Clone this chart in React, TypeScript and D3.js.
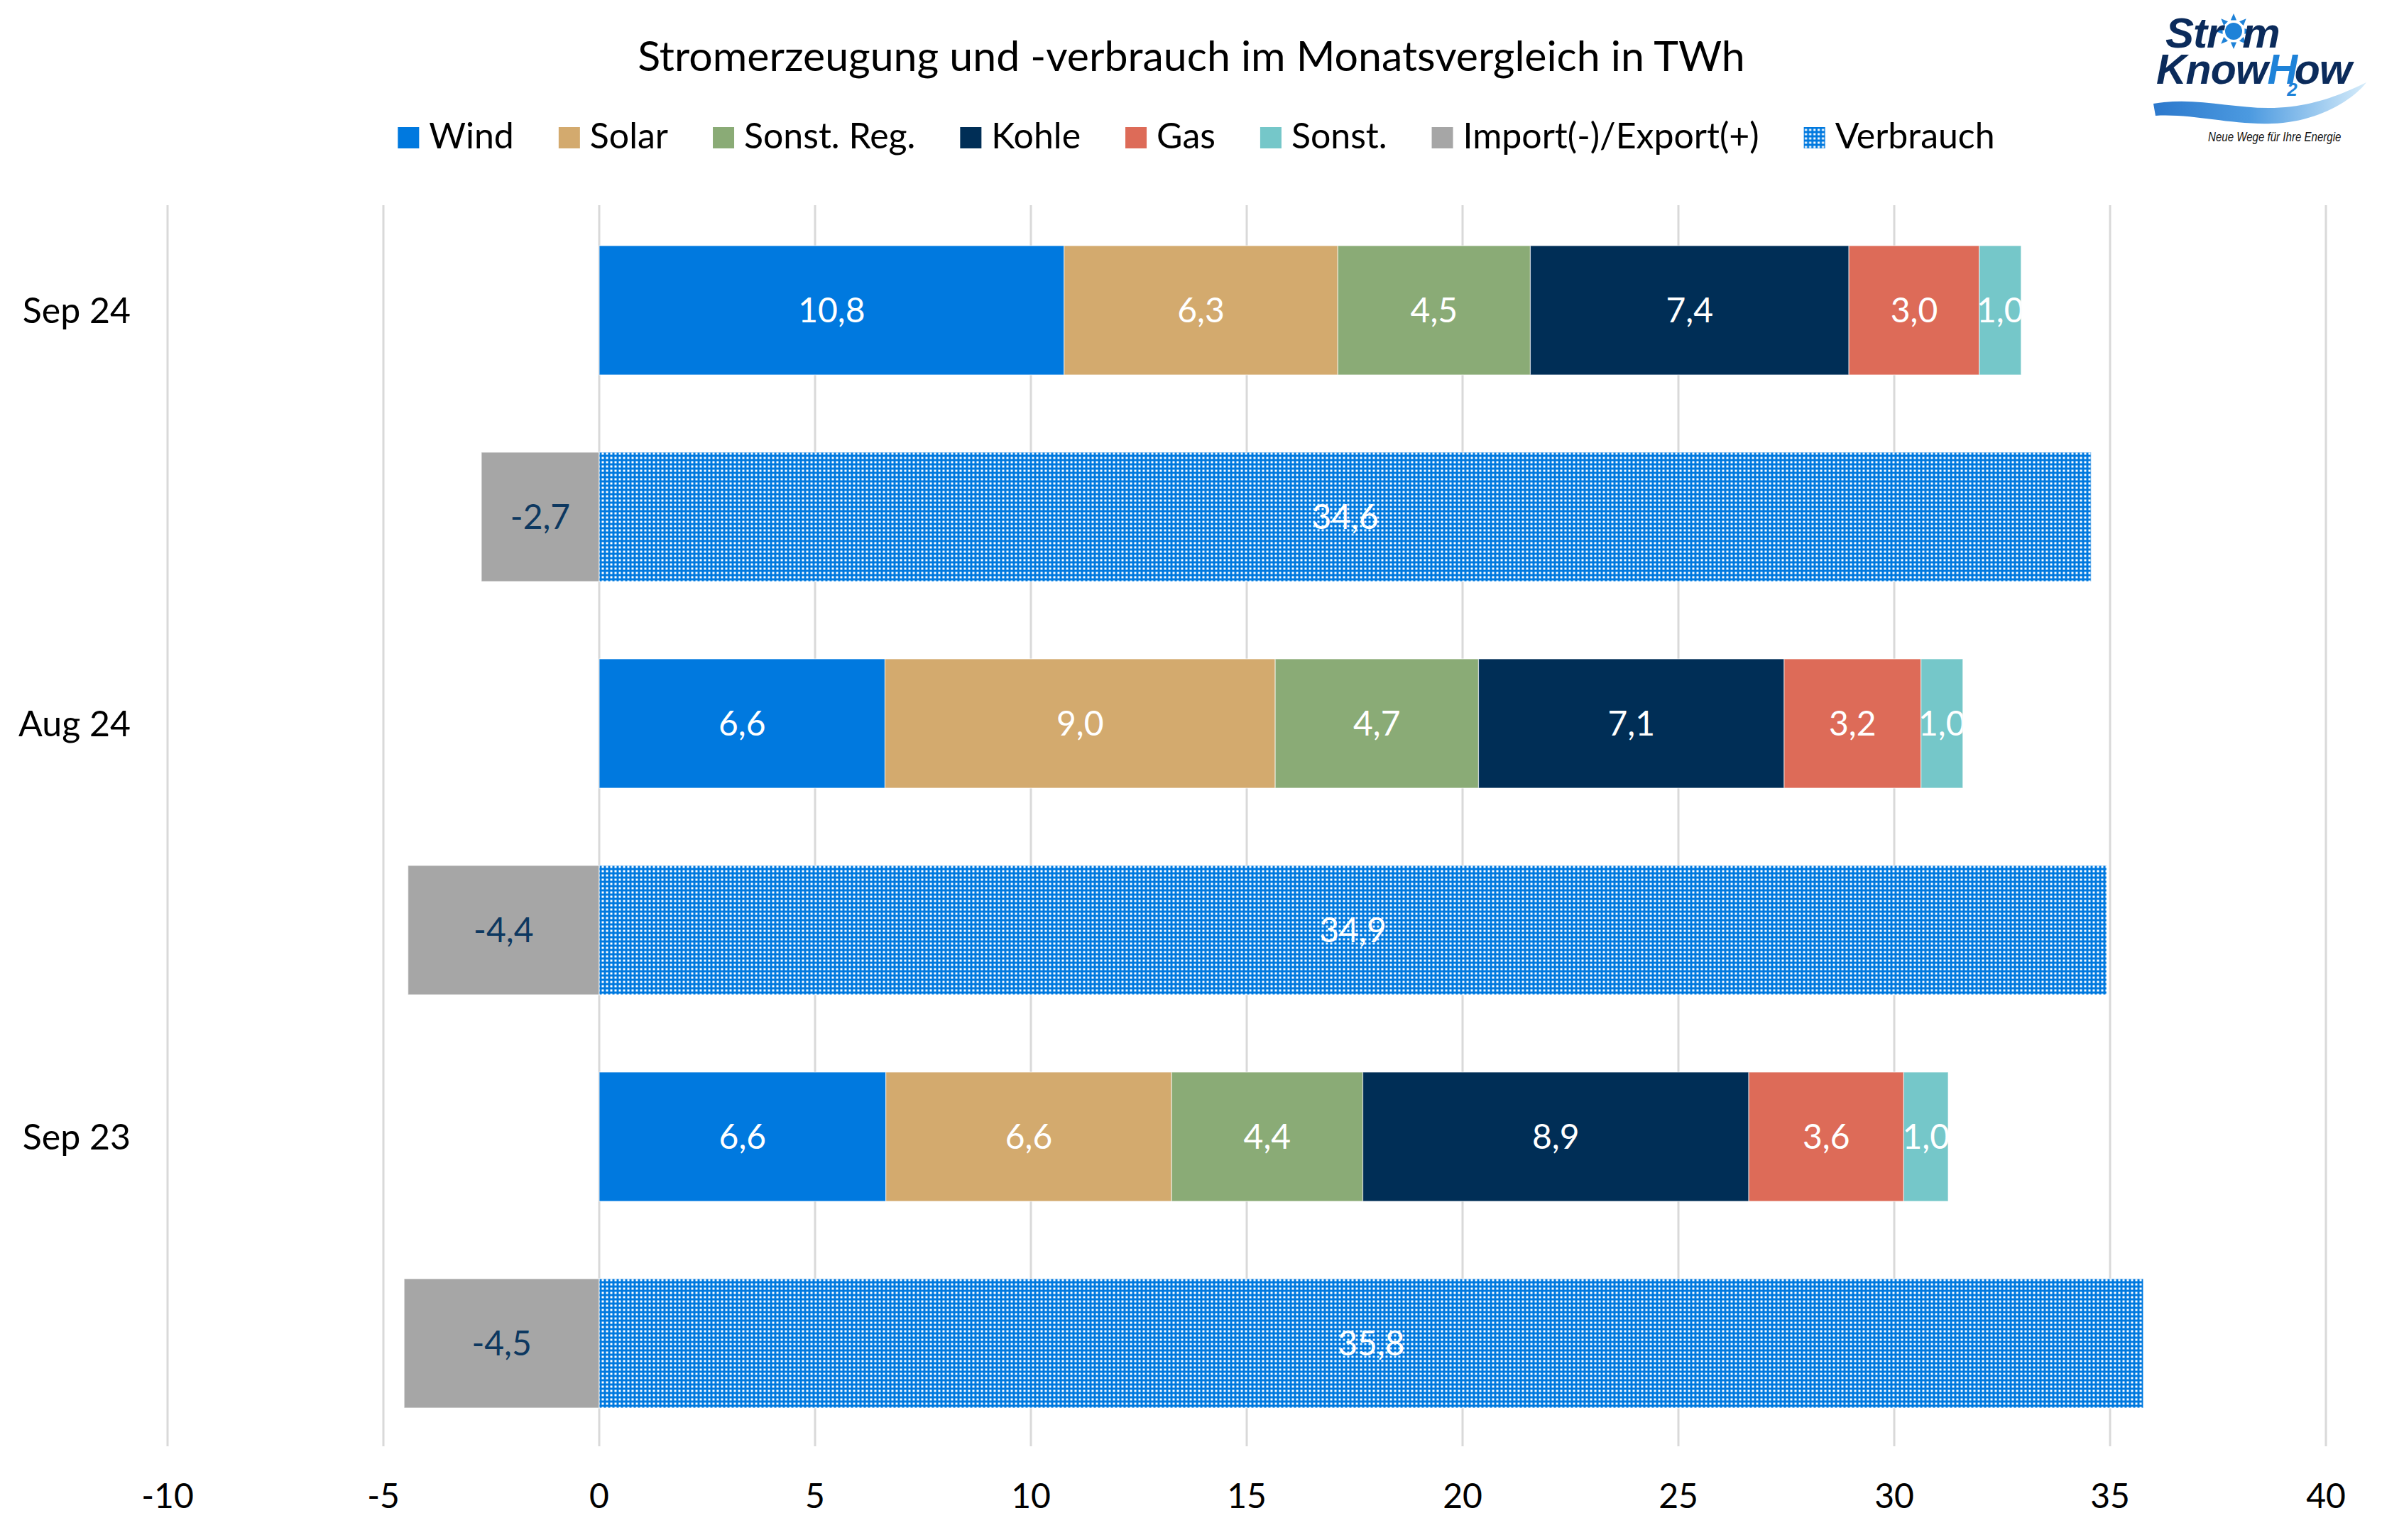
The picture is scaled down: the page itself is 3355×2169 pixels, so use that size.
import React, { useEffect, useRef } from "react";
import * as d3 from "d3";

// ---------- data ----------
const categories = ["Sep 24", "Aug 24", "Sep 23"];
const wind = [10.77, 6.62, 6.64];
const solar = [6.34, 9.04, 6.62];
const sonstReg = [4.46, 4.71, 4.43];
const kohle = [7.38, 7.08, 8.94];
const gas = [3.02, 3.17, 3.59];
const sonst = [0.97, 0.97, 1.03];
const importExport = [-2.73, -4.43, -4.52];
const verbrauch = [34.56, 34.92, 35.77];
const xTicks = [-10, -5, 0, 5, 10, 15, 20, 25, 30, 35, 40];

const genKeys = ["Wind", "Solar", "Sonst. Reg.", "Kohle", "Gas", "Sonst."];
const legendNames = ["Wind", "Solar", "Sonst. Reg.", "Kohle", "Gas", "Sonst.", "Import(-)/Export(+)", "Verbrauch"];
const colors: Record<string, string> = {
  Wind: "#0079DF",
  Solar: "#D3AA6E",
  "Sonst. Reg.": "#8AAB76",
  Kohle: "#002E56",
  Gas: "#DD6B58",
  "Sonst.": "#75C7C9",
  "Import(-)/Export(+)": "#A6A6A6",
  Verbrauch: "url(#vpat)",
};
const titleText = "Stromerzeugung und -verbrauch im Monatsvergleich in TWh";

const FONT = "Lato, 'Open Sans', sans-serif";
const LOGO_FONT = "'Liberation Sans', Arial, sans-serif";
const NAVY = "#0B2B5B";
const LBLUE = "#1E82D8";

export default function App() {
  const chartRef = useRef<SVGGElement>(null);

  useEffect(() => {
    document.body.style.margin = "0";
    const g = d3.select(chartRef.current);
    g.selectAll("*").remove();

    const defs = g.append("defs");
    const pat = defs
      .append("pattern")
      .attr("id", "vpat")
      .attr("patternUnits", "userSpaceOnUse")
      .attr("width", 6)
      .attr("height", 6);
    pat.append("rect").attr("width", 6).attr("height", 6).attr("fill", "#0079DF");
    pat.append("rect").attr("x", 1.5).attr("y", 1.5).attr("width", 3).attr("height", 3).attr("fill", "#fff");

    const table = categories.map((c, i) => ({
      cat: c,
      Wind: wind[i],
      Solar: solar[i],
      "Sonst. Reg.": sonstReg[i],
      Kohle: kohle[i],
      Gas: gas[i],
      "Sonst.": sonst[i],
      imp: importExport[i],
      use: verbrauch[i],
    }));

    const rows: string[] = [];
    categories.forEach((c) => {
      rows.push(c + "|gen");
      rows.push(c + "|use");
    });

    const x = d3.scaleLinear().domain([-10, 40]).range([236, 3276]);
    const pad = 109 / 291;
    const y = d3.scaleBand<string>().domain(rows).range([291.5, 2037.5]).paddingInner(pad).paddingOuter(pad / 2);
    const bw = y.bandwidth();

    const fmt = (v: number) => v.toFixed(1).replace(".", ",");

    // gridlines
    g.append("g")
      .selectAll("line")
      .data(xTicks)
      .join("line")
      .attr("x1", (d) => x(d))
      .attr("x2", (d) => x(d))
      .attr("y1", 289)
      .attr("y2", 2037)
      .attr("stroke", "#D9D9D9")
      .attr("stroke-width", 3);

    // tick labels
    g.append("g")
      .selectAll("text")
      .data(xTicks)
      .join("text")
      .attr("x", (d) => x(d))
      .attr("y", 2124)
      .attr("text-anchor", "middle")
      .attr("font-family", FONT)
      .attr("font-size", 48)
      .attr("fill", "#000")
      .text((d) => String(d));

    // category labels
    g.append("g")
      .selectAll("text")
      .data(categories)
      .join("text")
      .attr("x", 184)
      .attr("y", (d) => (y(d + "|gen") as number) + bw / 2)
      .attr("dy", "0.36em")
      .attr("text-anchor", "end")
      .attr("font-family", FONT)
      .attr("font-size", 50)
      .attr("fill", "#000")
      .text((d) => d);

    type Seg = { id: string; x0: number; x1: number; y: number; fill: string; label: string; labelColor: string };
    const segs: Seg[] = [];
    const stack = d3.stack<any>().keys(genKeys);
    const stacked = stack(table);
    stacked.forEach((layer) => {
      layer.forEach((d, i) => {
        segs.push({
          id: `seg-${layer.index}-${i}`,
          x0: x(d[0]),
          x1: x(d[1]),
          y: y(table[i].cat + "|gen") as number,
          fill: colors[layer.key],
          label: fmt(d[1] - d[0]),
          labelColor: "#fff",
        });
      });
    });
    table.forEach((d, i) => {
      segs.push({
        id: `imp-${i}`,
        x0: x(Math.min(0, d.imp)),
        x1: x(Math.max(0, d.imp)),
        y: y(d.cat + "|use") as number,
        fill: colors["Import(-)/Export(+)"],
        label: fmt(d.imp),
        labelColor: "#0D3860",
      });
      segs.push({
        id: `use-${i}`,
        x0: x(0),
        x1: x(d.use),
        y: y(d.cat + "|use") as number,
        fill: colors.Verbrauch,
        label: fmt(d.use),
        labelColor: "#fff",
      });
    });

    segs.forEach((s) => {
      defs
        .append("clipPath")
        .attr("id", "clip-" + s.id)
        .append("rect")
        .attr("x", s.x0)
        .attr("y", s.y)
        .attr("width", s.x1 - s.x0)
        .attr("height", bw);
    });

    const bars = g.append("g");
    bars
      .selectAll("rect")
      .data(segs)
      .join("rect")
      .attr("x", (s) => s.x0)
      .attr("y", (s) => s.y)
      .attr("width", (s) => s.x1 - s.x0)
      .attr("height", bw)
      .attr("fill", (s) => s.fill)
      .attr("stroke", "rgba(255,255,255,0.6)")
      .attr("stroke-width", 1.2);

    const labels = g.append("g");
    labels
      .selectAll("text")
      .data(segs)
      .join("text")
      .attr("clip-path", (s) => `url(#clip-${s.id})`)
      .attr("x", (s) => (s.x0 + s.x1) / 2)
      .attr("y", (s) => s.y + bw / 2)
      .attr("dy", "0.36em")
      .attr("text-anchor", "middle")
      .attr("font-family", FONT)
      .attr("font-size", 48)
      .attr("fill", (s) => s.labelColor)
      .text((s) => s.label);

    // title
    g.append("text")
      .attr("x", 1678)
      .attr("y", 100)
      .attr("text-anchor", "middle")
      .attr("font-family", FONT)
      .attr("font-size", 59)
      .attr("fill", "#000")
      .text(titleText);

    // legend
    const lg = g.append("g");
    const items = legendNames.map((n) => {
      const it = lg.append("g");
      it.append("rect").attr("width", 30).attr("height", 30).attr("y", 179).attr("fill", colors[n]);
      const t = it
        .append("text")
        .attr("x", 44)
        .attr("y", 209)
        .attr("font-family", FONT)
        .attr("font-size", 50)
        .attr("fill", "#000")
        .text(n);
      const w = (t.node() as SVGTextElement).getComputedTextLength();
      return { it, w: 44 + w };
    });
    const gap = 63;
    const total = items.reduce((a, b) => a + b.w, 0) + gap * (items.length - 1);
    let cx = 1685 - total / 2;
    items.forEach((o) => {
      o.it.attr("transform", `translate(${cx},0)`);
      cx += o.w + gap;
    });
  }, []);

  const sunRays = d3.range(8).map((k) => {
    const a = (k * Math.PI) / 4 - Math.PI / 2;
    const cx = 3146, cy = 44;
    const r0 = 16, r1 = 25, hw = 0.26;
    const p = (r: number, ang: number) => `${cx + r * Math.cos(ang)},${cy + r * Math.sin(ang)}`;
    return `M${p(r0, a - hw)} L${p(r1, a)} L${p(r0, a + hw)} Z`;
  });

  return (
    <svg width={3355} height={2169} style={{ position: "absolute", left: 0, top: 0, display: "block" }}>
      <rect width={3355} height={2169} fill="#fff" />
      <g ref={chartRef} />
      <g>
        <defs>
          <linearGradient id="waveGrad" x1="0" x2="1" y1="0" y2="0">
            <stop offset="0" stopColor="#2C78CC" />
            <stop offset="0.45" stopColor="#4C9AE0" />
            <stop offset="1" stopColor="#D6ECFA" />
          </linearGradient>
        </defs>
        <path
          d="M3033,146 C3090,136 3140,152 3195,152 C3255,152 3300,132 3333,116 C3315,140 3265,172 3200,174 C3140,176 3090,160 3036,163 Z"
          fill="url(#waveGrad)"
        />
        <circle cx={3146} cy={44} r={12} fill={LBLUE} />
        {sunRays.map((d, i) => (
          <path key={i} d={d} fill={LBLUE} />
        ))}
        <text fontFamily={LOGO_FONT} fontWeight="bold" fontStyle="italic" fontSize={60} fill={NAVY} letterSpacing={-1}>
          <tspan x={3050} y={67}>Str</tspan>
          <tspan dx={28}>m</tspan>
          <tspan x={3037} y={118} fontSize={59}>Know</tspan>
          <tspan fill={LBLUE} fontSize={59}>H</tspan>
          <tspan fill={LBLUE} fontSize={26} dx={-14} dy={17}>2</tspan>
          <tspan dx={-3} dy={-17} fontSize={59}>ow</tspan>
        </text>
        <text transform="translate(3110,199) scale(0.82,1)" fontFamily={LOGO_FONT} fontStyle="italic" fontSize={18.4} fill="#111">
          Neue Wege für Ihre Energie
        </text>
      </g>
    </svg>
  );
}
